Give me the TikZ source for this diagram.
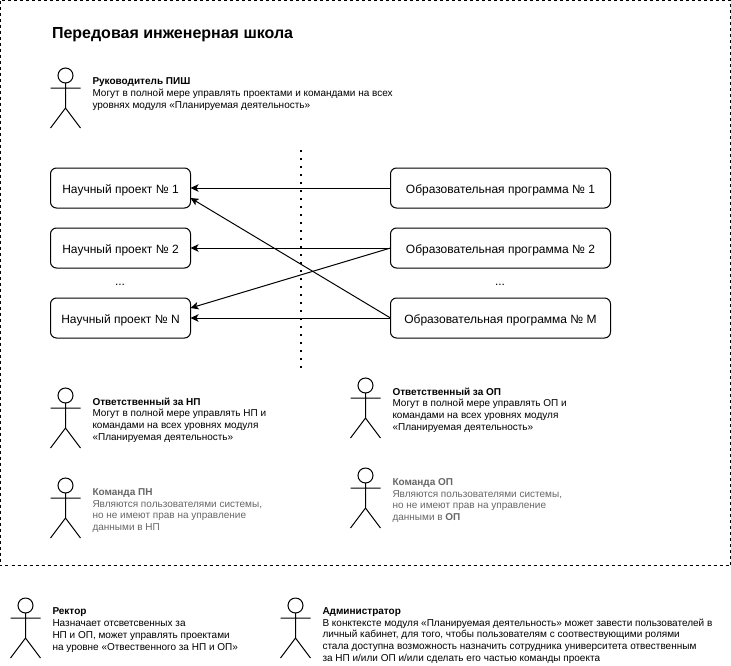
\documentclass[tikz,border=0pt]{standalone}
\usepackage{fontspec}
\setmainfont{Liberation Sans}
\usetikzlibrary{arrows.meta,calc}
\definecolor{greytxt}{HTML}{666666}
\tikzset{
  every node/.style={inner sep=0pt,outer sep=0pt},
  boxnode/.style={draw,line width=1pt,rounded corners=6pt,minimum height=40pt,font=\fontsize{12}{14}\selectfont,text height=10.5pt,text depth=0pt},
  leftbox/.style={boxnode,minimum width=140pt},
  rightbox/.style={boxnode,minimum width=220pt},
  link/.style={line width=1pt,-{Stealth[length=8pt,width=7.5pt,inset=2pt]}},
  desc/.style={align=left,anchor=west,font=\fontsize{10}{11.75}\selectfont},
  descgrey/.style={desc,text=greytxt},
  dotsnode/.style={font=\fontsize{12}{14}\selectfont},
  actor/.pic={
    \draw[line width=1pt] (0,-12.5) circle[radius=7.5];
    \draw[line width=1pt] (0,-5) -- (0,20) (-15,0) -- (15,0) (-15,40) -- (0,20) -- (15,40);
  }
}
\begin{document}
\begin{tikzpicture}[x=1pt,y=-1pt]
\useasboundingbox (0,0) rectangle (731,665);
\draw[line width=1pt,dash pattern=on 3pt off 3pt] (0.5,0.5) rectangle (730.5,565.5);
\node[anchor=west,font=\bfseries\fontsize{16}{18}\selectfont] (title) at (52,35) {Передовая инженерная школа};

\pic at (65.5,88) {actor};
\node[desc] (head) at (92.5,94) {\textbf{Руководитель ПИШ}\\Могут в полной мере управлять проектами и командами на всех\\уровнях модуля «Планируемая деятельность»};

\node[leftbox] (l1) at (120.5,188) {Научный проект № 1};
\node[leftbox] (l2) at (120.5,248) {Научный проект № 2};
\node[leftbox] (l3) at (120.5,318) {Научный проект № N};
\node[rightbox] (r1) at (500.5,188) {Образовательная программа № 1};
\node[rightbox] (r2) at (500.5,248) {Образовательная программа № 2};
\node[rightbox] (r3) at (500.5,318) {Образовательная программа № M};
\node[dotsnode] (dl) at (120,285) {...};
\node[dotsnode] (dr) at (500,285) {...};

\coordinate (dtop) at (300.5,150);
\coordinate (dbot) at (300.5,368);
\draw[line width=2pt,dash pattern=on 2pt off 6pt] (dtop) -- (dbot);

\coordinate (l1low) at ($(l1.east)+(0,10)$);
\coordinate (l3up) at ($(l3.east)+(0,-10)$);
\draw[link] (r1.west) -- (l1.east);
\draw[link] (r2.west) -- (l2.east);
\draw[link] (r3.west) -- (l3.east);
\draw[link] (r3.west) -- (l1low);
\draw[link] (r2.west) -- (l3up);

\pic at (65.5,408) {actor};
\node[desc] (np) at (92.5,420) {\textbf{Ответственный за НП}\\Могут в полной мере управлять НП и\\командами на всех уровнях модуля\\«Планируемая деятельность»};
\pic at (65.5,498) {actor};
\node[descgrey] (tnp) at (92.5,510.5) {\textbf{Команда ПН}\\Являются пользователями системы,\\но не имеют прав на управление\\данными в НП};
\pic at (365.5,398) {actor};
\node[desc] (op) at (392.5,410) {\textbf{Ответственный за ОП}\\Могут в полной мере управлять ОП и\\командами на всех уровнях модуля\\«Планируемая деятельность»};
\pic at (365.5,488) {actor};
\node[descgrey] (top) at (392.5,500.5) {\textbf{Команда ОП}\\Являются пользователями системы,\\но не имеют прав на управление\\данными в \textbf{ОП}};

\pic at (25.5,618) {actor};
\node[desc] (rector) at (52.5,630) {\textbf{Ректор}\\Назначает отсветсвенных за\\НП и ОП, может управлять проектами\\на уровне «Отвественного за НП и ОП»};
\pic at (295.5,618) {actor};
\node[desc] (admin) at (322.5,635.5) {\textbf{Администратор}\\В конктексте модуля «Планируемая деятельность» может завести пользователей в\\личный кабинет, для того, чтобы пользователям с соотвествующими ролями\\стала доступна возможность назначить сотрудника университета отвественным\\за НП и/или ОП и/или сделать его частью команды проекта};
\end{tikzpicture}
\end{document}
